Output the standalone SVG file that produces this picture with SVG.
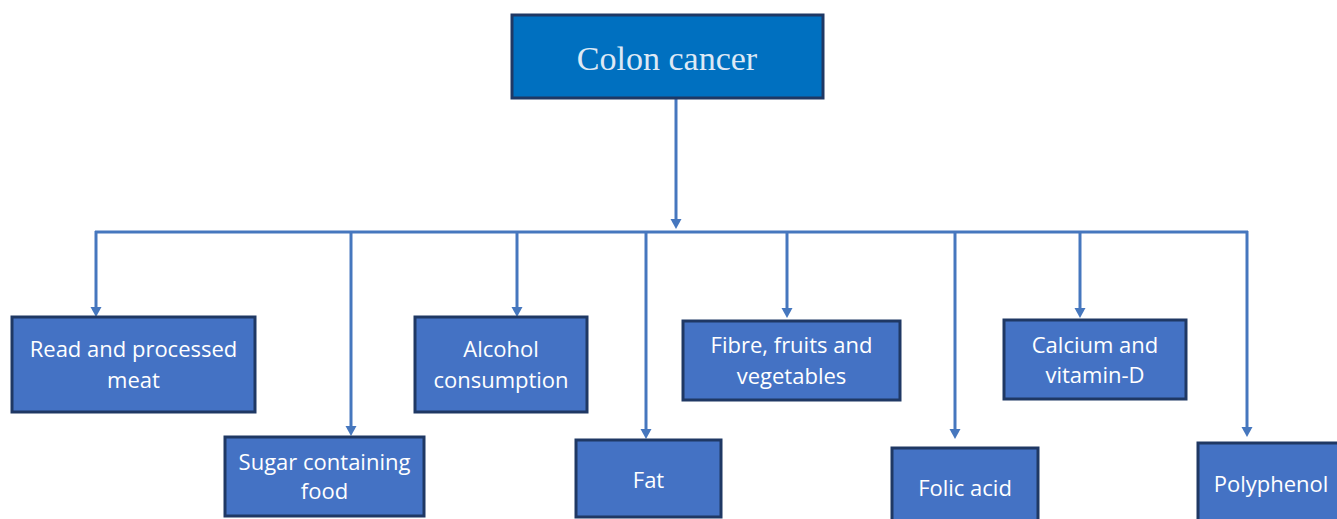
<svg xmlns="http://www.w3.org/2000/svg" width="1337" height="519" viewBox="0 0 1337 519">
  <style>
    .box { fill: #4472C4; stroke: #1F3864; stroke-width: 3; }
    .top { fill: #0070C0; stroke: #1F3864; stroke-width: 3; }
    .lbl { font-family: "Open Sans", "Liberation Sans", sans-serif; font-size: 22px; fill: #FFFFFF; text-anchor: middle; }
    .ttl { font-family: "Liberation Serif", "Times New Roman", serif; font-size: 34px; fill: #DDE8F5; text-anchor: middle; }
    .con { stroke: #4677BE; stroke-width: 3; fill: none; }
  </style>
  <defs>
    <marker id="ah" markerUnits="userSpaceOnUse" markerWidth="14" markerHeight="14" viewBox="0 0 14 14" refX="4" refY="7" orient="auto">
      <path d="M0,1.5 L10,7 L0,12.5 z" fill="#4677BE"/>
    </marker>
  </defs>
  <rect width="1337" height="519" fill="#FFFFFF"/>

  <g id="connectors">
    <line class="con" x1="676" y1="98" x2="676" y2="223" marker-end="url(#ah)"/>
    <line class="con" x1="95" y1="232" x2="1248" y2="232"/>
    <line class="con" x1="96" y1="231" x2="96" y2="311" marker-end="url(#ah)"/>
    <line class="con" x1="351" y1="232" x2="351" y2="430" marker-end="url(#ah)"/>
    <line class="con" x1="517" y1="232" x2="517" y2="311" marker-end="url(#ah)"/>
    <line class="con" x1="646" y1="232" x2="646" y2="433" marker-end="url(#ah)"/>
    <line class="con" x1="787" y1="232" x2="787" y2="312" marker-end="url(#ah)"/>
    <line class="con" x1="955" y1="232" x2="955" y2="433" marker-end="url(#ah)"/>
    <line class="con" x1="1080" y1="232" x2="1080" y2="312" marker-end="url(#ah)"/>
    <line class="con" x1="1247" y1="231" x2="1247" y2="431" marker-end="url(#ah)"/>
  </g>

  <g id="colon-cancer">
    <rect class="top" x="512" y="15" width="311" height="83"/>
    <text class="ttl" x="667" y="70">Colon cancer</text>
  </g>

  <g id="red-meat">
    <rect class="box" x="12" y="317" width="243" height="95"/>
    <text class="lbl" x="133.5" y="357">Read and processed</text>
    <text class="lbl" x="133.5" y="388">meat</text>
  </g>

  <g id="sugar">
    <rect class="box" x="225" y="437" width="199" height="79"/>
    <text class="lbl" x="324.5" y="470">Sugar containing</text>
    <text class="lbl" x="324.5" y="499">food</text>
  </g>

  <g id="alcohol">
    <rect class="box" x="415" y="317" width="172" height="95"/>
    <text class="lbl" x="501" y="357">Alcohol</text>
    <text class="lbl" x="501" y="388">consumption</text>
  </g>

  <g id="fat">
    <rect class="box" x="576" y="440" width="145" height="77"/>
    <text class="lbl" x="648.5" y="488">Fat</text>
  </g>

  <g id="fibre">
    <rect class="box" x="683" y="321" width="217" height="79"/>
    <text class="lbl" x="791.5" y="353">Fibre, fruits and</text>
    <text class="lbl" x="791.5" y="384">vegetables</text>
  </g>

  <g id="folic-acid">
    <rect class="box" x="892" y="448" width="146" height="73"/>
    <text class="lbl" x="965" y="496">Folic acid</text>
  </g>

  <g id="calcium">
    <rect class="box" x="1004" y="320" width="182" height="79"/>
    <text class="lbl" x="1095" y="353">Calcium and</text>
    <text class="lbl" x="1095" y="383">vitamin-D</text>
  </g>

  <g id="polyphenol">
    <rect class="box" x="1198" y="443" width="146" height="78"/>
    <text class="lbl" x="1271" y="492">Polyphenol</text>
  </g>
</svg>
